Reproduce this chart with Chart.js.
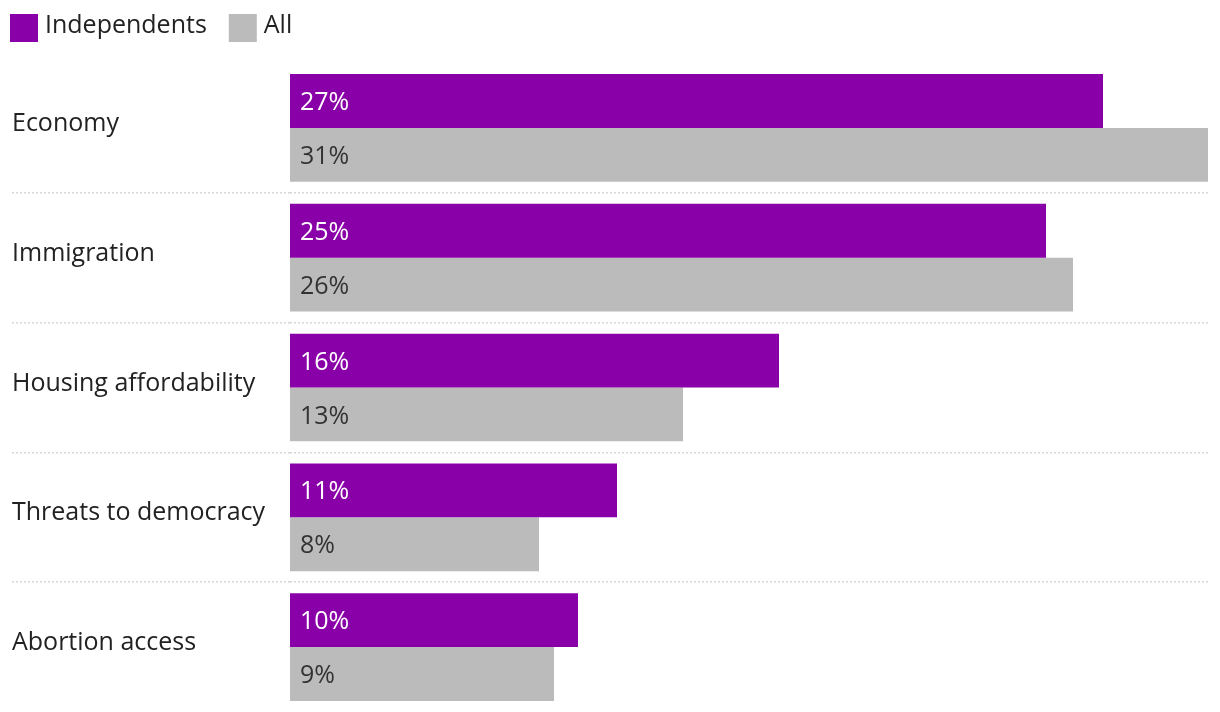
<!DOCTYPE html>
<html>
<head>
<meta charset="utf-8">
<script src="https://cdn.jsdelivr.net/npm/chart.js@4"></script>
<style>
  html, body { margin: 0; padding: 0; background: #fff; }
  #wrap { width: 1220px; height: 712px; }
</style>
</head>
<body>
<div id="wrap"><canvas id="issuesChart"></canvas></div>
<script>
const categories = ['Economy', 'Immigration', 'Housing affordability', 'Threats to democracy', 'Abortion access'];
const seriesNames = ['Independents', 'All'];
const independents = [27.1, 25.2, 16.3, 10.9, 9.6];
const allAdults = [30.6, 26.1, 13.1, 8.3, 8.8];

const FONT = '"Open Sans", Lato, sans-serif';
const PURPLE = '#8a00a8';
const GRAY = '#bbbbbb';

// writes the rounded value inside the start of each bar
const barLabels = {
    id: 'barLabels',
    afterDatasetsDraw(chart) {
        const ctx = chart.ctx;
        ctx.save();
        ctx.font = '25px ' + FONT;
        ctx.textAlign = 'left';
        ctx.textBaseline = 'middle';
        chart.data.datasets.forEach((ds, i) => {
            const meta = chart.getDatasetMeta(i);
            meta.data.forEach((bar, j) => {
                ctx.fillStyle = i === 0 ? '#ffffff' : '#333333';
                ctx.fillText(Math.round(ds.data[j]) + '%', bar.base + 10, bar.y + 2);
            });
        });
        ctx.restore();
    }
};

// simple legend in the top-left corner
const topLegend = {
    id: 'topLegend',
    afterDraw(chart) {
        const ctx = chart.ctx;
        ctx.save();
        ctx.font = '25px ' + FONT;
        ctx.textAlign = 'left';
        ctx.textBaseline = 'middle';
        let x = 10;
        chart.data.datasets.forEach((ds) => {
            ctx.fillStyle = ds.backgroundColor;
            ctx.fillRect(x, 14, 28, 28);
            ctx.fillStyle = '#222222';
            ctx.fillText(ds.label, x + 35, 26);
            x += 35 + ctx.measureText(ds.label).width + 22;
        });
        ctx.restore();
    }
};

const ctx = document.getElementById('issuesChart').getContext('2d');

new Chart(ctx, {
    type: 'bar',
    data: {
        labels: categories,
        datasets: [{
            label: seriesNames[0],
            data: independents,
            backgroundColor: PURPLE,
            barPercentage: 1,
            categoryPercentage: 0.83
        }, {
            label: seriesNames[1],
            data: allAdults,
            backgroundColor: GRAY,
            barPercentage: 1,
            categoryPercentage: 0.83
        }]
    },
    options: {
        indexAxis: 'y',
        responsive: true,
        maintainAspectRatio: false,
        animation: false,
        layout: {
            padding: { left: 12, right: 12, top: 63, bottom: 0 }
        },
        scales: {
            x: {
                display: false,
                min: 0,
                max: 30.6
            },
            y: {
                afterFit(axis) {
                    axis.width = 278;
                    axis.paddingTop = 0;
                    axis.paddingBottom = 0;
                },
                ticks: {
                    crossAlign: 'far',
                    labelOffset: -4,
                    color: '#222222',
                    font: { family: FONT, size: 25 }
                },
                grid: {
                    offset: true,
                    color: (c) => (c.type !== 'tick' || c.index === 0) ? 'rgba(0,0,0,0)' : '#d6d6d6',
                    lineWidth: 1.5,
                    tickLength: 278,
                    tickBorderDash: [2, 2]
                },
                border: {
                    display: false,
                    dash: [2, 2]
                }
            }
        },
        plugins: {
            legend: { display: false },
            tooltip: { enabled: false }
        }
    },
    plugins: [barLabels, topLegend]
});
</script>
</body>
</html>
